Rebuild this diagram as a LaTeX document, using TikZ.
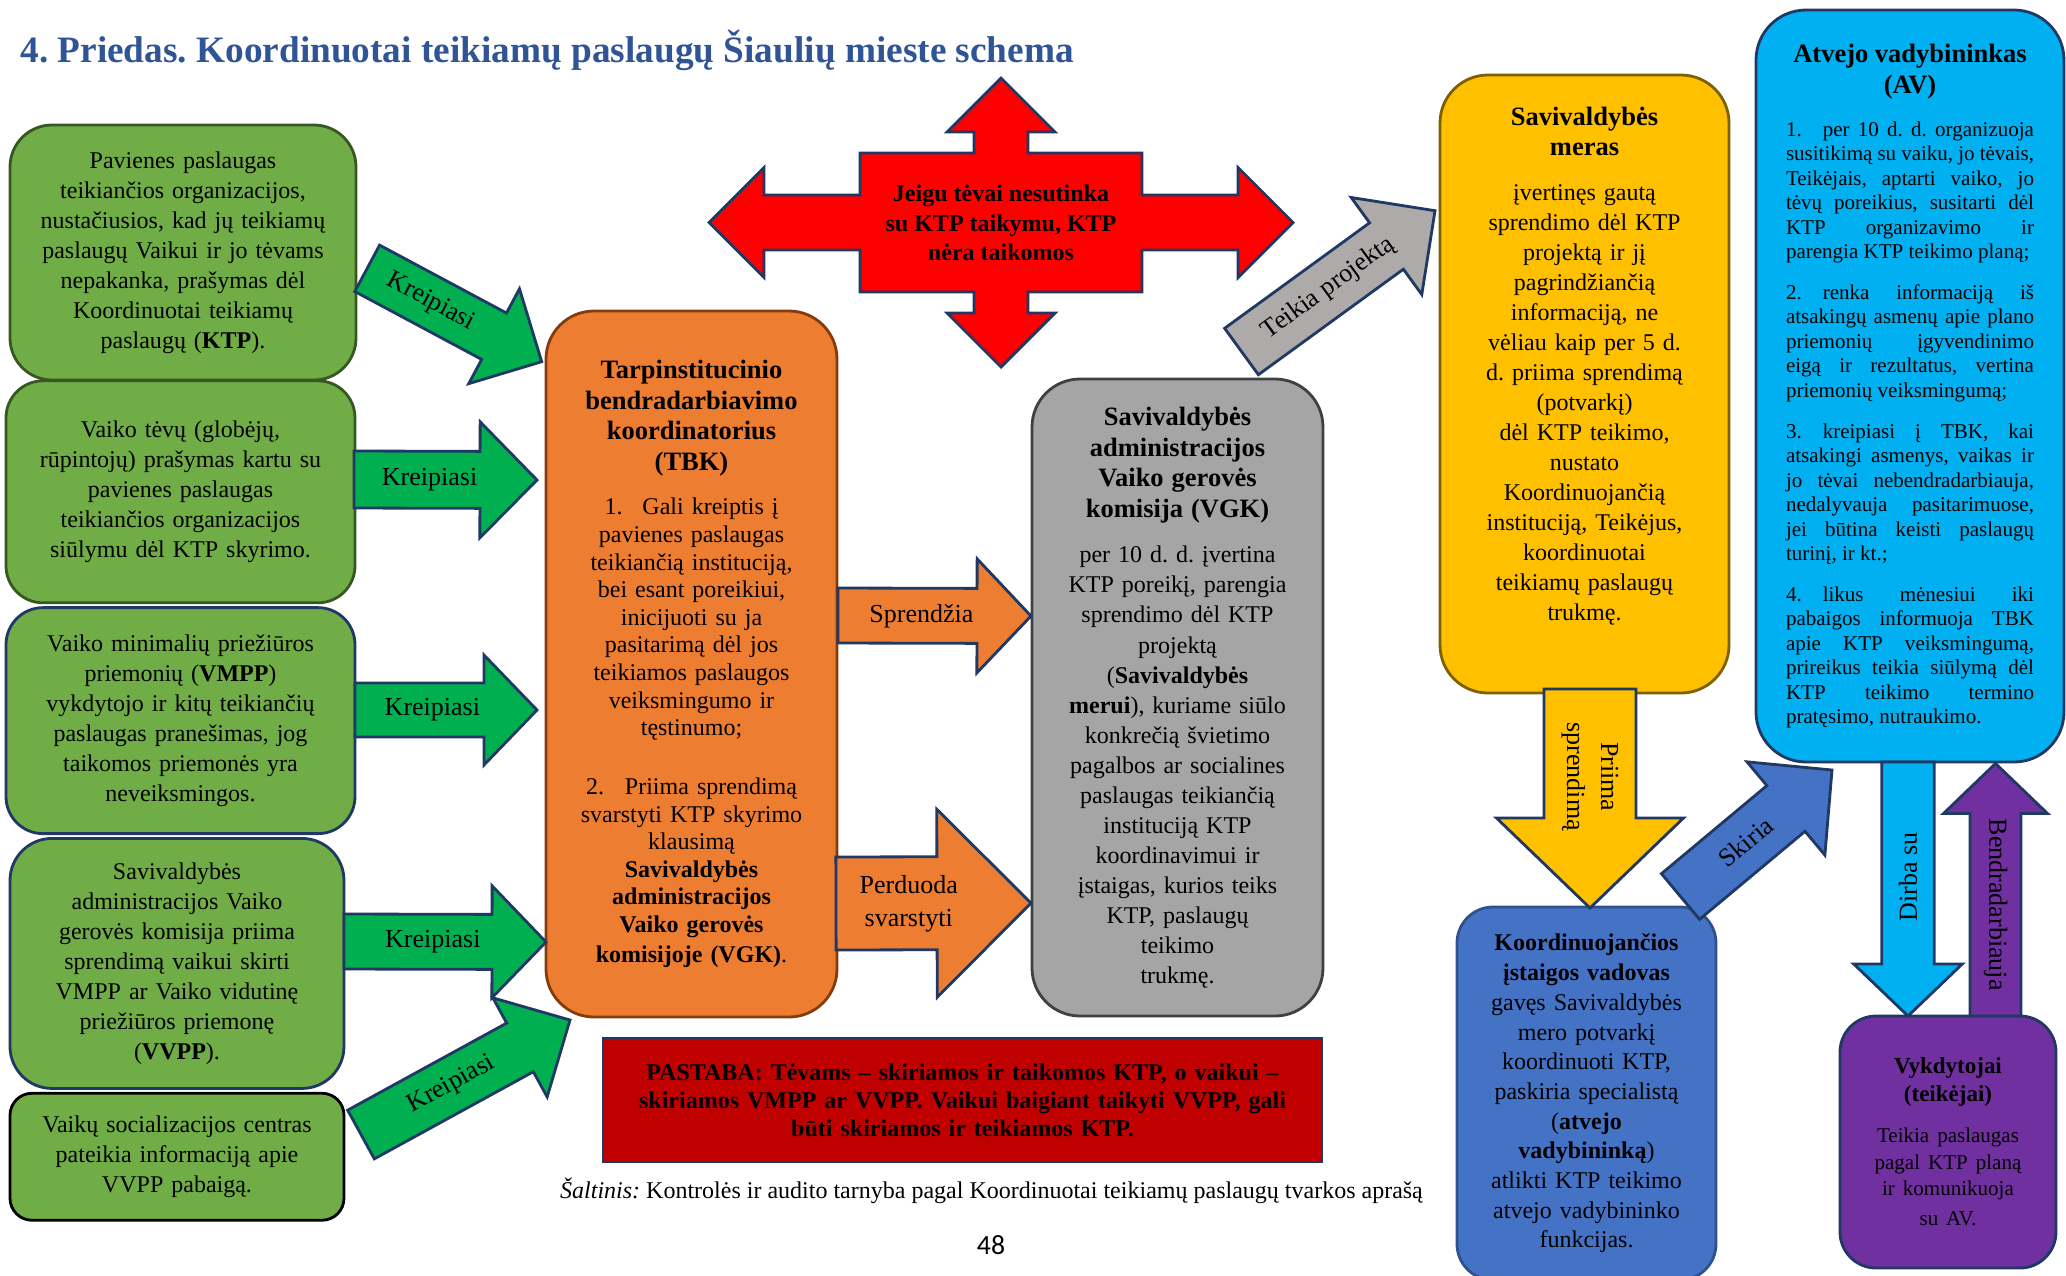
\documentclass[tikz,border=0pt]{standalone}
\usepackage{fontspec}
\setmainfont{Liberation Serif}
\newfontfamily\puslapiofontas{Carlito}
\usetikzlibrary{positioning, calc}
\definecolor{zalia}{HTML}{70AD47}
\definecolor{zaliarod}{HTML}{00B050}
\definecolor{tamsizalia}{HTML}{385723}
\definecolor{melynakr}{HTML}{1F3864}
\definecolor{oranzine}{HTML}{ED7D31}
\definecolor{rudakr}{HTML}{843C0C}
\definecolor{pilka}{HTML}{A5A5A5}
\definecolor{pilkarod}{HTML}{AEAAAA}
\definecolor{pilkakr}{HTML}{404040}
\definecolor{raudona}{HTML}{FF0000}
\definecolor{geltona}{HTML}{FFC000}
\definecolor{geltonakr}{HTML}{7F6000}
\definecolor{zydra}{HTML}{00B0F0}
\definecolor{melyna}{HTML}{4472C4}
\definecolor{kivkr}{HTML}{2F528F}
\definecolor{violetine}{HTML}{7030A0}
\definecolor{bordo}{HTML}{C00000}
\definecolor{antrastes}{HTML}{2F5597}
\newcommand{\tekstas}{\fontsize{6.83}{8.54}\selectfont}
\newcommand{\smulkus}{\fontsize{6.83}{7.85}\selectfont}
\newcommand{\antr}{\fontsize{7.54}{8.71}\selectfont\bfseries}
\newcommand{\etiketesf}{\fontsize{7.4}{8.54}\selectfont}
\newcommand{\avantr}{\fontsize{7.54}{9.02}\selectfont\bfseries}
\newcommand{\avtekstas}{\fontsize{5.98}{6.97}\selectfont}
\newcommand{\vykantr}{\fontsize{6.54}{7.88}\selectfont\bfseries}
\newcommand{\vyktekstas}{\fontsize{5.98}{7.57}\selectfont}
\newcommand{\kivf}{\fontsize{6.83}{8.45}\selectfont}
\newcommand{\pastabosf}{\fontsize{6.83}{7.97}\selectfont\bfseries}
\newcommand{\kryziausf}{\fontsize{6.83}{8.39}\selectfont\bfseries}
\newcommand{\pavadinimasf}{\fontsize{10.61}{12}\selectfont\bfseries}
\newcommand{\saltiniof}{\fontsize{6.83}{8}\selectfont}
\newcommand{\blokrodykle}[6]{%
  \coordinate (#3h) at ($(#3)!#6!(#2)$);
  \draw[rodykle, fill=#1] ($(#2)!#4!90:(#3)$) -- ($(#3h)!#4!-90:(#2)$)
    -- ($(#3h)!#5!-90:(#2)$) -- (#3) -- ($(#3h)!#5!90:(#2)$)
    -- ($(#3h)!#4!90:(#2)$) -- ($(#2)!#4!-90:(#3)$) -- cycle;}

\begin{document}
\frenchspacing
\begin{tikzpicture}[x=1cm, y=1cm, line width=0.8pt,
    every node/.style={inner sep=0pt},
    langas/.style={draw, rounded corners=#1, align=center, font=\tekstas},
    langas/.default=0.4cm,
    rodykle/.style={draw=melynakr},
    etikete/.style={font=\etiketesf, align=center}]
            \useasboundingbox (0,0) rectangle (20.66,-12.75);
            \clip (0,0) rectangle (20.66,-12.75);
            \node[anchor=base west, font=\pavadinimasf, text=antrastes] (pavadinimas) at (0.19,-0.62) {4. Priedas. Koordinuotai teikiamų paslaugų Šiaulių mieste schema};
            \node[langas=0.42cm, fill=zalia, draw=tamsizalia, minimum width=3.46cm, minimum height=2.55cm, text width=3.2cm] (p1) at (1.83,-2.525) {Pavienes paslaugas\\ teikiančios organizacijos,\\ nustačiusios, kad jų teikiamų\\ paslaugų Vaikui ir jo tėvams\\ nepakanka, prašymas dėl\\ Koordinuotai teikiamų\\ paslaugų (\textbf{KTP}).};
            \node[langas=0.37cm, fill=zalia, draw=tamsizalia, minimum width=3.49cm, minimum height=2.22cm, text width=3.2cm, below=-0.02cm of p1, xshift=-0.025cm] (p2) {Vaiko tėvų (globėjų,\\ rūpintojų) prašymas kartu su\\ pavienes paslaugas\\ teikiančios organizacijos\\ siūlymu dėl KTP skyrimo.};
            \node[langas=0.37cm, fill=zalia, draw=melynakr, minimum width=3.49cm, minimum height=2.26cm, text width=3.2cm, below=0.02cm of p2] (p3) {Vaiko minimalių priežiūros\\ priemonių (\textbf{VMPP})\\ vykdytojo ir kitų teikiančių\\ paslaugas pranešimas, jog\\ taikomos priemonės yra\\ neveiksmingos.};
            \node[langas=0.42cm, fill=zalia, draw=melynakr, minimum width=3.34cm, minimum height=2.5cm, text width=3.1cm, below=0.02cm of p3, xshift=-0.035cm] (p4) {Savivaldybės\\ administracijos Vaiko\\ gerovės komisija priima\\ sprendimą vaikui skirti\\ VMPP ar Vaiko vidutinę\\ priežiūros priemonę\\ (\textbf{VVPP}).};
            \node[langas=0.22cm, fill=zalia, draw=black, minimum width=3.34cm, minimum height=1.27cm, text width=3.1cm, below=0.02cm of p4] (p5) {Vaikų socializacijos centras\\ pateikia informaciją apie\\ VVPP pabaigą.};
            \node[langas=0.48cm, fill=oranzine, draw=rudakr, minimum width=2.91cm, minimum height=7.06cm, text width=2.75cm] (tbk) at (6.915,-6.64) {{\antr Tarpinstitucinio\\ bendradarbiavimo\\ koordinatorius\\ (TBK)\\[4.78pt]}\smulkus 1.\hspace{0.2cm}Gali kreiptis į\\ pavienes paslaugas\\ teikiančią instituciją,\\ bei esant poreikiui,\\ inicijuoti su ja\\ pasitarimą dėl jos\\ teikiamos paslaugos\\ veiksmingumo ir\\ tęstinumo;\\[8.93pt] 2.\hspace{0.21cm}Priima sprendimą\\ svarstyti KTP skyrimo\\ klausimą\\ \textbf{Savivaldybės}\\ \textbf{administracijos}\\ \textbf{Vaiko gerovės}\\ \textbf{komisijoje (VGK)}.};
            \node[langas=0.48cm, fill=pilka, draw=pilkakr, minimum width=2.91cm, minimum height=6.37cm, text width=2.75cm] (vgk) at (11.775,-6.975) {{\antr Savivaldybės\\ administracijos\\ Vaiko gerovės\\ komisija (VGK)\\[4.44pt]}per 10 d. d. įvertina\\ KTP poreikį, parengia\\ sprendimo dėl KTP\\ projektą\\ (\textbf{Savivaldybės}\\ \textbf{merui}), kuriame siūlo\\ konkrečią švietimo\\ pagalbos ar socialines\\ paslaugas teikiančią\\ instituciją KTP\\ koordinavimui ir\\ įstaigas, kurios teiks\\ KTP, paslaugų\\ teikimo\\ trukmę.};
            \node[langas=0.48cm, fill=geltona, draw=geltonakr, minimum width=2.89cm, minimum height=6.18cm] (meras) at (15.845,-3.84) {};
            \node[font=\tekstas, text width=2.75cm, align=center] (merotekstas) at (15.845,-3.66) {{\antr Savivaldybės\\ meras\\[4.07pt]}įvertinęs gautą\\ sprendimo dėl KTP\\ projektą ir jį\\ pagrindžiančią\\ informaciją, ne\\ vėliau kaip per 5 d.\\ d. priima sprendimą\\ (potvarkį)\\ dėl KTP teikimo,\\ nustato\\ Koordinuojančią\\ instituciją, Teikėjus,\\ koordinuotai\\ teikiamų paslaugų\\ trukmę.};
            \node[langas=0.5cm, fill=zydra, draw=melynakr, minimum width=3.08cm, minimum height=7.52cm] (av) at (19.10,-3.86) {\begin{minipage}{2.48cm}
                {\centering\avantr Atvejo vadybininkas\\ (AV)\par}
                \vspace{5.06pt}
                \avtekstas\tolerance=10000 \hbadness=10000
                1.\quad per 10 d. d. organizuoja\linebreak susitikimą su vaiku, jo tėvais,\linebreak Teikėjais, aptarti vaiko, jo\linebreak tėvų poreikius, susitarti dėl\linebreak KTP organizavimo ir\linebreak parengia KTP teikimo planą;\par
                \vspace{4.64pt}
                2.\quad renka informaciją iš\linebreak atsakingų asmenų apie plano\linebreak priemonių įgyvendinimo\linebreak eigą ir rezultatus, vertina\linebreak priemonių veiksmingumą;\par
                \vspace{4.64pt}
                3.\quad kreipiasi į TBK, kai\linebreak atsakingi asmenys, vaikas ir\linebreak jo tėvai nebendradarbiauja,\linebreak nedalyvauja pasitarimuose,\linebreak jei būtina keisti paslaugų\linebreak turinį, ir kt.;\par
                \vspace{4.64pt}
                4.\quad likus mėnesiui iki\linebreak pabaigos informuoja TBK\linebreak apie KTP veiksmingumą,\linebreak prireikus teikia siūlymą dėl\linebreak KTP teikimo termino\linebreak pratęsimo, nutraukimo.\par
                \end{minipage}};
            \node[langas=0.36cm, fill=melyna, draw=kivkr, minimum width=2.59cm, minimum height=3.73cm, text width=2.45cm, font=\kivf] (kiv) at (15.865,-10.935) {{\bfseries Koordinuojančios\\ įstaigos vadovas\\}gavęs Savivaldybės\\ mero potvarkį\\ koordinuoti KTP,\\ paskiria specialistą\\ (\textbf{atvejo}\\ \textbf{vadybininką})\\ atlikti KTP teikimo\\ atvejo vadybininko\\ funkcijas.};
            \node[langas=0.36cm, fill=violetine, draw=melynakr, minimum width=2.16cm, minimum height=2.52cm, text width=1.95cm] (vyk) at (19.48,-11.42) {{\vykantr Vykdytojai\\ (teikėjai)\\[4.07pt]}\vyktekstas Teikia paslaugas\\ pagal KTP planą\\ ir komunikuoja\\ su AV.};
            \node[draw=melynakr, fill=bordo, minimum width=7.19cm, minimum height=1.24cm, text width=7.0cm, align=center, font=\pastabosf] (pastaba) at (9.625,-11.00) {PASTABA: Tėvams – skiriamos ir taikomos KTP, o vaikui –\\ skiriamos VMPP ar VVPP. Vaikui baigiant taikyti VVPP, gali\\ būti skiriamos ir teikiamos KTP.};
            \begin{scope}[shift={(10.01,-2.225)}]
                \draw[rodykle, fill=raudona] (-2.92,0) -- (-2.37,0.55) -- (-2.37,0.275) -- (-1.41,0.275) -- (-1.41,0.695) -- (-0.27,0.695) -- (-0.27,0.905) -- (-0.54,0.905) -- (0,1.445) -- (0.54,0.905) -- (0.27,0.905) -- (0.27,0.695) -- (1.41,0.695) -- (1.41,0.275) -- (2.37,0.275) -- (2.37,0.55) -- (2.92,0) -- (2.37,-0.55) -- (2.37,-0.275) -- (1.41,-0.275) -- (1.41,-0.695) -- (0.27,-0.695) -- (0.27,-0.905) -- (0.54,-0.905) -- (0,-1.445) -- (-0.54,-0.905) -- (-0.27,-0.905) -- (-0.27,-0.695) -- (-1.41,-0.695) -- (-1.41,-0.275) -- (-2.37,-0.275) -- (-2.37,-0.55) -- cycle;
            \end{scope}
            \node[font=\kryziausf, align=center] (salyga) at (10.01,-2.23) {Jeigu tėvai nesutinka\\ su KTP taikymu, KTP\\ nėra taikomos};
            \coordinate (k1a) at (3.672,-2.683);
            \coordinate (k1b) at (5.417,-3.617);
            \coordinate (k2a) at (3.54,-4.795);
            \coordinate (k2b) at (5.37,-4.80);
            \coordinate (k3a) at (3.55,-7.10);
            \coordinate (k3b) at (5.37,-7.10);
            \coordinate (k4a) at (3.44,-9.415);
            \coordinate (k4b) at (5.46,-9.42);
            \coordinate (k5a) at (3.61,-11.345);
            \coordinate (k5b) at (5.70,-10.20);
            \coordinate (spra) at (8.38,-6.155);
            \coordinate (sprb) at (10.31,-6.16);
            \coordinate (perda) at (8.36,-9.035);
            \coordinate (perdb) at (10.31,-9.03);
            \coordinate (teika) at (12.415,-3.515);
            \coordinate (teikb) at (14.35,-2.107);
            \coordinate (priima) at (15.90,-6.89);
            \coordinate (priimb) at (15.90,-9.08);
            \coordinate (skira) at (16.805,-8.965);
            \coordinate (skirb) at (18.32,-7.70);
            \coordinate (dirba) at (19.08,-7.62);
            \coordinate (dirbb) at (19.08,-10.16);
            \coordinate (benda) at (19.955,-10.16);
            \coordinate (bendb) at (19.955,-7.635);
            \blokrodykle{zaliarod}{k1a}{k1b}{0.263cm}{0.538cm}{0.54cm}
            \blokrodykle{zaliarod}{k2a}{k2b}{0.285cm}{0.58cm}{0.57cm}
            \blokrodykle{zaliarod}{k3a}{k3b}{0.27cm}{0.55cm}{0.53cm}
            \blokrodykle{zaliarod}{k4a}{k4b}{0.275cm}{0.56cm}{0.54cm}
            \blokrodykle{zaliarod}{k5a}{k5b}{0.2775cm}{0.565cm}{0.57cm}
            \blokrodykle{oranzine}{spra}{sprb}{0.275cm}{0.57cm}{0.54cm}
            \blokrodykle{oranzine}{perda}{perdb}{0.465cm}{0.94cm}{0.94cm}
            \blokrodykle{pilkarod}{teika}{teikb}{0.287cm}{0.60cm}{0.60cm}
            \blokrodykle{geltona}{priima}{priimb}{0.46cm}{0.935cm}{0.90cm}
            \blokrodykle{melyna}{skira}{skirb}{0.2975cm}{0.6075cm}{0.60cm}
            \blokrodykle{zydra}{dirba}{dirbb}{0.2625cm}{0.5425cm}{0.52cm}
            \blokrodykle{violetine}{benda}{bendb}{0.255cm}{0.52cm}{0.50cm}
            \path (k1a) -- (k1bh) node[etikete, sloped, pos=0.5] (k1t) {Kreipiasi};
            \path (k2a) -- (k2bh) node[etikete, pos=0.6] (k2t) {Kreipiasi};
            \path (k3a) -- (k3bh) node[etikete, pos=0.6] (k3t) {Kreipiasi};
            \path (k4a) -- (k4bh) node[etikete, pos=0.6] (k4t) {Kreipiasi};
            \path (k5a) -- (k5bh) node[etikete, sloped, pos=0.57] (k5t) {Kreipiasi};
            \path (spra) -- (sprbh) node[etikete, pos=0.6] (sprt) {Sprendžia};
            \path (perda) -- (perdbh) node[etikete, font=\fontsize{7.4}{9.39}\selectfont, pos=0.72] (perdt) {Perduoda\\ svarstyti};
            \path (teika) -- (teikbh) node[etikete, sloped, pos=0.6] (teikt) {Teikia projektą};
            \path (priima) -- (priimbh) node[etikete, font=\fontsize{7.4}{9.67}\selectfont, rotate=-90, pos=0.68] (priimt) {Priima\\ sprendimą};
            \path (skira) -- (skirbh) node[etikete, sloped, pos=0.62] (skirt) {Skiria};
            \path (dirba) -- (dirbbh) node[etikete, rotate=90, pos=0.57] (dirbt) {Dirba su};
            \path (benda) -- (bendbh) node[etikete, rotate=-90, pos=0.55] (bendt) {Bendradarbiauja};
            \node[font=\saltiniof] (saltinis) at (9.915,-11.91) {\textit{Šaltinis:} Kontrolės ir audito tarnyba pagal Koordinuotai teikiamų paslaugų tvarkos aprašą};
            \node[font=\puslapiofontas\fontsize{7.9}{9}\selectfont] (puslapis) at (9.91,-12.45) {48};
        \end{tikzpicture}
\end{document}
